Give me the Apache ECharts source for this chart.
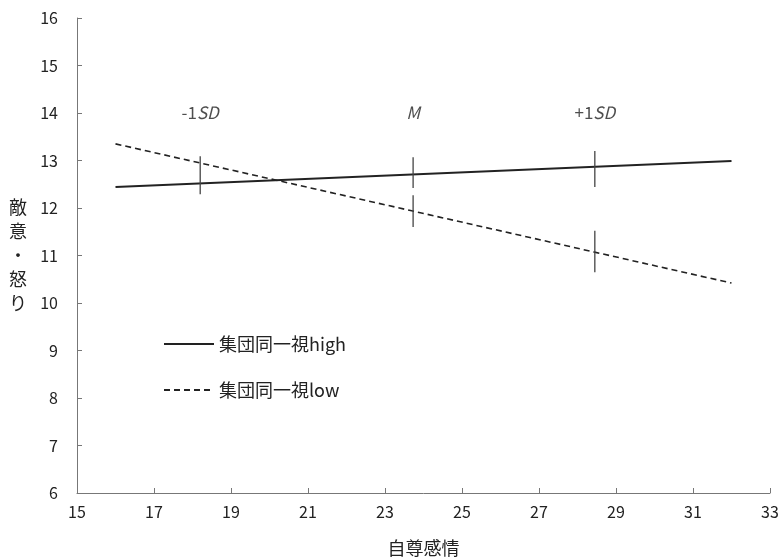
<!DOCTYPE html>
<html><head><meta charset="utf-8">
<script src="https://cdn.jsdelivr.net/npm/echarts@6/dist/echarts.min.js"></script>
<style>html,body{margin:0;padding:0;background:#fff}#c{width:782px;height:559px}</style>
</head><body><div id="c"></div>
<script>
const xTicks = [15,17,19,21,23,25,27,29,31,33];
const yTicks = [6,7,8,9,10,11,12,13,14,15,16];
const highLine = [[16,12.44],[32,12.99]];
const lowLine = [[16,13.35],[32,10.42]];
// error bars: [x, low, high]
const highBars = [[18.2,12.29,13.09],[23.73,12.42,13.07],[28.45,12.44,13.2]];
const lowBars = [[23.73,11.6,12.27],[28.45,10.65,11.52]];
const sdLabels = [[18.2,14,'-1','SD'],[23.73,14,'','M'],[28.45,14,'+1','SD']];
const font = '"Noto Sans CJK JP", sans-serif';
const chart = echarts.init(document.getElementById('c'));
function barRender(params, api){
  const p1 = api.coord([api.value(0), api.value(1)]);
  const p2 = api.coord([api.value(0), api.value(2)]);
  return {type:'line', shape:{x1:p1[0],y1:p1[1],x2:p2[0],y2:p2[1]}, style:{stroke:'#444',lineWidth:1.3}};
}
chart.setOption({
  animation:false,
  textStyle:{fontFamily:font},
  grid:{left:77,right:12,top:18,bottom:66,containLabel:false,outerBoundsMode:'none'},
  legend:{
    orient:'vertical', left:158, top:330, itemGap:28, itemWidth:50, itemHeight:14,
    data:['集団同一視high','集団同一視low'],
    itemStyle:{opacity:0},
    textStyle:{fontFamily:font,fontSize:18,color:'#222'}
  },
  xAxis:{type:'value',min:15,max:33,interval:2,
    axisLine:{lineStyle:{color:'#777',width:1}},
    axisTick:{inside:true,length:5,lineStyle:{color:'#777'}},
    axisLabel:{fontSize:16,color:'#222',margin:11,fontFamily:font},
    splitLine:{show:false},
    name:'自尊感情',nameLocation:'middle',nameGap:46,
    nameTextStyle:{fontSize:18,color:'#222',fontFamily:font}
  },
  yAxis:{type:'value',min:6,max:16,interval:1,
    axisLine:{show:true,lineStyle:{color:'#777',width:1}},
    axisTick:{show:true,inside:true,length:5,lineStyle:{color:'#777'}},
    axisLabel:{fontSize:16,color:'#222',margin:19,fontFamily:font},
    splitLine:{show:false},
    name:'敵\n意\n・\n怒\nり',nameLocation:'middle',nameRotate:0,nameGap:50,
    nameTextStyle:{fontSize:18,color:'#222',lineHeight:24,fontFamily:font}
  },
  series:[
    {name:'集団同一視high',type:'line',data:highLine,symbol:'none',
      lineStyle:{color:'#222',width:2,type:'solid'},itemStyle:{color:'#222'}},
    {name:'集団同一視low',type:'line',data:lowLine,symbol:'none',
      lineStyle:{color:'#222',width:1.6,type:[6,4]},itemStyle:{color:'#222'}},
    {type:'custom',renderItem:barRender,data:highBars,z:5},
    {type:'custom',renderItem:barRender,data:lowBars,z:5},
    {type:'scatter',data:sdLabels,symbolSize:0,silent:true,
      label:{show:true,position:'inside',
        formatter:p=>'{n|'+p.data[2]+'}{i|'+p.data[3]+'}',
        rich:{n:{fontSize:17,color:'#222',fontFamily:font},i:{fontSize:17,color:'#222',fontStyle:'italic',fontFamily:font}}}}
  ]
});
</script></body></html>
